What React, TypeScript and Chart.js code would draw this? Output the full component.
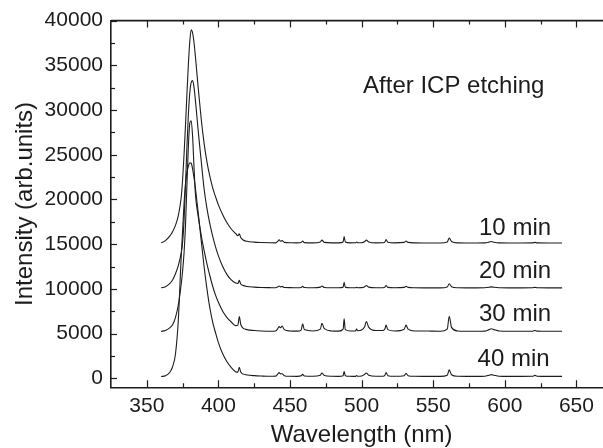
import React, { useEffect, useRef } from "react";
import { Chart, registerables } from "chart.js";

Chart.register(...registerables);

// ---- data ----
const WAVELENGTH = [
  360, 363, 366, 368, 370, 372, 374, 375, 376, 377, 378, 379, 380, 381, 382, 383, 384, 386, 388, 390,
  392, 394, 396, 398, 400, 403, 406, 409, 412,
  413.6, 414.6, 415.6, 417, 420, 425, 430, 436, 440, 441.6, 442.4, 443.4, 444.5, 446, 450, 455, 457.8,
  458.8, 460, 466, 471.2, 472.3, 474, 479, 484, 487.1, 487.8, 488.6, 492, 495.8, 496.5, 497.3, 500,
  502.2, 503.3, 505, 510, 515, 516.3, 517.1, 518.3, 523, 529.8, 531, 532.5, 537, 543, 549, 555, 559.8,
  561.2, 562.8, 567, 573, 580, 586, 589, 590.6, 592.5, 596, 603, 612, 619.5, 621, 622.5, 630, 640,
];

const I_10MIN = [
  15150, 15400, 15900, 16400, 17100, 18200, 20200, 22200, 25000, 28200, 31700, 35000, 37600, 38970, 38600, 37500, 35900, 32300, 29000, 26300,
  24200, 22600, 21300, 20300, 19400, 18300, 17400, 16700, 16200,
  15950, 16150, 15750, 15500, 15320, 15230, 15190, 15160, 15150, 15350, 15500, 15330, 15400, 15200, 15160, 15150, 15200,
  15350, 15180, 15150, 15250, 15450, 15200, 15150, 15150, 15250, 15850, 15250, 15150, 15160, 15250, 15160, 15170,
  15300, 15450, 15250, 15150, 15160, 15250, 15520, 15220, 15150, 15200, 15350, 15200, 15150, 15140, 15140, 15140, 15250,
  15700, 15300, 15150, 15140, 15140, 15150, 15230, 15300, 15220, 15150, 15140, 15140, 15150, 15200, 15150, 15140, 15140,
];

const I_20MIN = [
  10130, 10250, 10600, 11000, 11700, 12600, 14000, 15200, 17600, 21500, 25800, 29400, 31900, 33100, 33290, 32500, 31000, 27500, 24300, 21200,
  19000, 17300, 15900, 14700, 13700, 12500, 11600, 11000, 10650,
  10600, 10950, 10550, 10400, 10270, 10200, 10160, 10140, 10130, 10250, 10330, 10230, 10280, 10150, 10140, 10130, 10160,
  10280, 10150, 10130, 10200, 10330, 10160, 10130, 10130, 10200, 10730, 10200, 10130, 10130, 10180, 10130, 10140,
  10250, 10380, 10200, 10130, 10130, 10200, 10380, 10170, 10130, 10170, 10280, 10170, 10130, 10120, 10120, 10120, 10220,
  10580, 10250, 10130, 10120, 10120, 10130, 10180, 10230, 10180, 10130, 10120, 10120, 10130, 10170, 10130, 10120, 10120,
];

const I_30MIN = [
  5250, 5350, 5650, 6000, 6800, 8200, 10500, 12000, 14000, 17000, 21500, 25800, 28500, 28800, 27000, 23500, 20500, 18000, 16000, 14300,
  12800, 11500, 10300, 9300, 8500, 7500, 6800, 6300, 5900,
  5950, 6900, 6050, 5650, 5450, 5350, 5300, 5270, 5300, 5600, 5800, 5650, 5850, 5450, 5300, 5280, 5400,
  6100, 5450, 5300, 5500, 6150, 5550, 5300, 5280, 5500, 6650, 5450, 5300, 5300, 5500, 5320, 5400,
  5800, 6350, 5700, 5350, 5350, 5550, 5950, 5450, 5300, 5500, 5950, 5500, 5300, 5300, 5280, 5270, 5500,
  6950, 5700, 5300, 5270, 5260, 5280, 5450, 5550, 5450, 5300, 5260, 5260, 5270, 5350, 5280, 5260, 5260,
];

const I_40MIN = [
  200, 300, 650, 1300, 2700, 6500, 13500, 16500, 19500, 21700, 23000, 23700, 24100, 24050, 23400, 22400, 21200, 18400, 15400, 12500,
  10000, 7900, 6300, 5100, 4000, 2750, 1850, 1200, 750,
  700, 1250, 700, 500, 380, 300, 260, 230, 250, 500, 650, 500, 520, 300, 230, 220, 280,
  450, 270, 230, 350, 600, 330, 230, 220, 300, 750, 300, 230, 220, 320, 230, 260,
  450, 600, 350, 240, 240, 350, 650, 300, 230, 300, 550, 300, 230, 220, 220, 220, 350,
  950, 400, 230, 220, 220, 240, 350, 420, 350, 240, 220, 220, 230, 330, 240, 220, 220,
];

const SERIES_LABELS = ["10 min", "20 min", "30 min", "40 min"];
const X_TICKS = [350, 400, 450, 500, 550, 600, 650];
const X_MINOR = [375, 425, 475, 525, 575, 625];
const Y_TICKS = [0, 5000, 10000, 15000, 20000, 25000, 30000, 35000, 40000];
const Y_MINOR = [2500, 7500, 12500, 17500, 22500, 27500, 32500, 37500];
const NOTE = "After ICP etching";
const X_TITLE = "Wavelength (nm)";
const Y_TITLE = "Intensity (arb.units)";

export default function App() {
  const ref = useRef<HTMLCanvasElement>(null);

  useEffect(() => {
    const canvas = ref.current;
    if (!canvas) return;
    const family = '"Liberation Sans", Arial, Helvetica, sans-serif';
    const ink = "#1c1c1c";
    const series = [I_10MIN, I_20MIN, I_30MIN, I_40MIN];

    const datasets = series.map((vals, i) => ({
      label: SERIES_LABELS[i],
      data: WAVELENGTH.map((x, j) => ({ x, y: vals[j] })),
      borderColor: ink,
      borderWidth: 1.1,
      pointRadius: 0,
      fill: false,
      cubicInterpolationMode: "monotone" as const,
    }));

    const labelAnchors = [
      { x: 582, y: 16030 },
      { x: 582, y: 11240 },
      { x: 582, y: 6410 },
      { x: 581, y: 1370 },
    ];
    const noteAnchor = { x: 501, y: 31900 };

    const framePlugin = {
      id: "frameTicksNotes",
      afterDraw(chart: any) {
        const { ctx, chartArea: a, scales } = chart;
        const xs = scales.x;
        const ys = scales.y;
        ctx.save();
        ctx.strokeStyle = ink;
        ctx.lineWidth = 1.6;
        ctx.beginPath();
        ctx.moveTo(a.left, a.top);
        ctx.lineTo(a.right, a.top);
        ctx.stroke();
        ctx.lineWidth = 1.2;
        const xt = (v: number, len: number) => {
          const px = Math.round(xs.getPixelForValue(v)) + 0.5;
          ctx.beginPath();
          ctx.moveTo(px, a.bottom);
          ctx.lineTo(px, a.bottom - len);
          ctx.moveTo(px, a.top);
          ctx.lineTo(px, a.top + len);
          ctx.stroke();
        };
        X_TICKS.forEach((v) => xt(v, 7));
        X_MINOR.forEach((v) => xt(v, 4));
        const yt = (v: number, len: number) => {
          const py = Math.round(ys.getPixelForValue(v)) + 0.5;
          ctx.beginPath();
          ctx.moveTo(a.left, py);
          ctx.lineTo(a.left + len, py);
          ctx.stroke();
        };
        Y_TICKS.forEach((v) => yt(v, 6));
        Y_MINOR.forEach((v) => yt(v, 4));

        ctx.fillStyle = ink;
        ctx.font = `24px ${family}`;
        ctx.textAlign = "left";
        ctx.textBaseline = "alphabetic";
        SERIES_LABELS.forEach((t, i) => {
          ctx.fillText(t, xs.getPixelForValue(labelAnchors[i].x), ys.getPixelForValue(labelAnchors[i].y));
        });
        ctx.fillText(NOTE, xs.getPixelForValue(noteAnchor.x), ys.getPixelForValue(noteAnchor.y));
        ctx.restore();
      },
    };

    const chart = new Chart(canvas, {
      type: "line",
      data: { datasets },
      options: {
        animation: false,
        responsive: false,
        parsing: false as any,
        layout: { padding: { top: 19, right: 7.8, left: 0, bottom: 0 } },
        plugins: { legend: { display: false }, tooltip: { enabled: false } },
        scales: {
          x: {
            type: "linear",
            min: 325,
            max: 675,
            afterBuildTicks: (s: any) => {
              s.ticks = X_TICKS.map((value) => ({ value }));
            },
            afterFit: (s: any) => {
              s.height = 60.7;
            },
            grid: { display: false, drawTicks: false },
            border: { display: true, color: ink, width: 1.6 },
            ticks: {
              font: { family, size: 21 },
              color: ink,
              padding: 6,
              autoSkip: false,
              maxRotation: 0,
              callback: (v: any) => String(v),
            },
            title: {
              display: true,
              text: X_TITLE,
              font: { family, size: 24 },
              color: ink,
              padding: { top: 0, bottom: -2 },
            },
          },
          y: {
            type: "linear",
            min: -1000,
            max: 40000,
            afterBuildTicks: (s: any) => {
              s.ticks = Y_TICKS.map((value) => ({ value }));
            },
            afterFit: (s: any) => {
              s.width = 111;
            },
            grid: { display: false, drawTicks: false },
            border: { display: true, color: ink, width: 1.6 },
            ticks: {
              font: { family, size: 21 },
              color: ink,
              padding: 8,
              autoSkip: false,
              callback: (v: any) => String(v),
            },
            title: {
              display: true,
              text: Y_TITLE,
              font: { family, size: 24 },
              color: ink,
              padding: { top: 11, bottom: 0 },
            },
          },
        },
      },
      plugins: [framePlugin],
    });

    return () => chart.destroy();
  }, []);

  return (
    <div
      style={{
        position: "fixed",
        left: 0,
        top: 0,
        width: 603,
        height: 448,
        overflow: "hidden",
        background: "#fff",
      }}
    >
      <canvas ref={ref} width={620} height={448} style={{ width: 620, height: 448, display: "block" }} />
    </div>
  );
}
